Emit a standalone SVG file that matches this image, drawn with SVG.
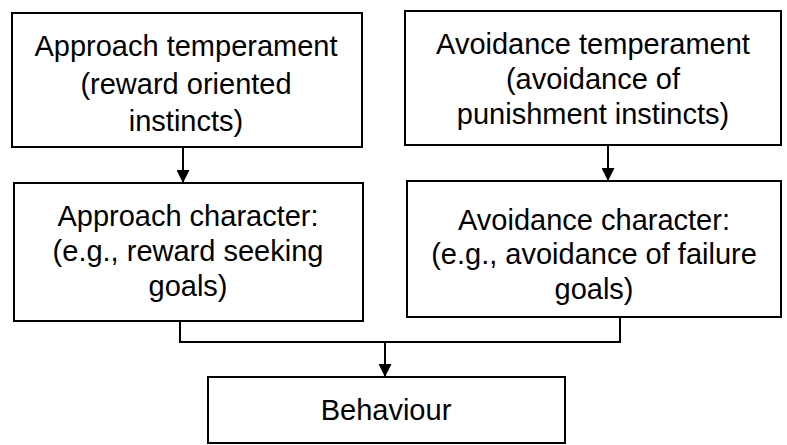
<svg xmlns="http://www.w3.org/2000/svg" width="787" height="445" viewBox="0 0 787 445">
<defs>
<style>
.box{fill:#fff;stroke:#000;stroke-width:2}
.t{font-family:"Liberation Sans",Arial,sans-serif;font-size:29px;fill:#000;text-anchor:middle}
.c{fill:none;stroke:#000;stroke-width:2}
</style>
<marker id="ah" viewBox="0 0 12 12" refX="12" refY="6" markerWidth="13" markerHeight="13" markerUnits="userSpaceOnUse" orient="auto">
<path d="M0,0 L12,6 L0,12 Z" fill="#000"/>
</marker>
</defs>
<rect width="787" height="445" fill="#fff"/>
<g id="approach-temperament">
<rect class="box" x="12" y="13" width="350" height="134"/>
<text class="t" x="186" y="56">Approach temperament</text>
<text class="t" x="186" y="94">(reward oriented</text>
<text class="t" x="186" y="131">instincts)</text>
</g>
<g id="avoidance-temperament">
<rect class="box" x="405" y="11" width="376" height="134"/>
<text class="t" x="593" y="54">Avoidance temperament</text>
<text class="t" x="593" y="89">(avoidance of</text>
<text class="t" x="593" y="124">punishment instincts)</text>
</g>
<g id="approach-character">
<rect class="box" x="14" y="183" width="349" height="138"/>
<text class="t" x="188" y="226">Approach character:</text>
<text class="t" x="188" y="261">(e.g., reward seeking</text>
<text class="t" x="188" y="296">goals)</text>
</g>
<g id="avoidance-character">
<rect class="box" x="407" y="181" width="374" height="136"/>
<text class="t" x="594" y="230">Avoidance character:</text>
<text class="t" x="594" y="264">(e.g., avoidance of failure</text>
<text class="t" x="594" y="299">goals)</text>
</g>
<g id="behaviour">
<rect class="box" x="208" y="377" width="357" height="66"/>
<text class="t" x="386" y="420">Behaviour</text>
</g>
<g id="connectors">
<line class="c" x1="183" y1="147" x2="183" y2="183" marker-end="url(#ah)"/>
<line class="c" x1="608" y1="145" x2="608" y2="181" marker-end="url(#ah)"/>
<polyline class="c" points="180,321 180,342 620,342 620,317"/>
<line class="c" x1="385" y1="342" x2="385" y2="377" marker-end="url(#ah)"/>
</g>
</svg>
